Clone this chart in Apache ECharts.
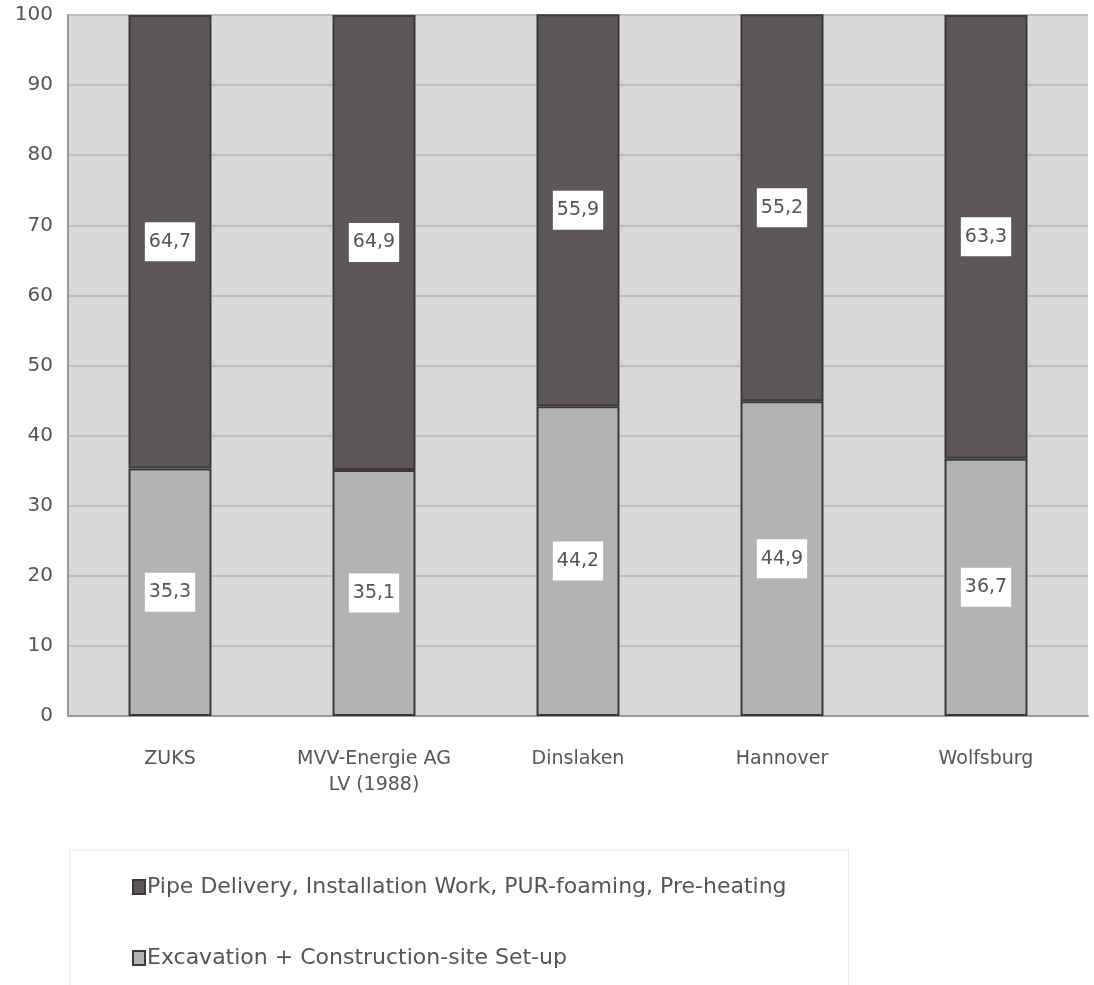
<html lang="en">
<head>
    <meta http-equiv="Content-Type" content="text/html; charset=UTF-8">
    <script type="text/javascript" src="https://cdn.jsdelivr.net/npm/echarts@6/dist/echarts.min.js"></script>
    <style>body{margin:0;background:#fff;}</style>
</head>
<body>
<div id="main" style="height:985px;width:1094px;"></div>
<script type="text/javascript">
    // categories and shares (%)
    var sites = ['ZUKS', 'MVV-Energie AG\nLV (1988)', 'Dinslaken', 'Hannover', 'Wolfsburg'];
    var excavation = [35.3, 35.1, 44.2, 44.9, 36.7];
    var pipeWork = [64.7, 64.9, 55.9, 55.2, 63.3];
    var seriesNames = ['Pipe Delivery, Installation Work, PUR-foaming, Pre-heating',
                       'Excavation + Construction-site Set-up'];

    var myChart = echarts.init(document.getElementById('main'));
    var font = 'DejaVu Sans';

    var labelStyle = {
        show: true,
        position: 'inside',
        formatter: function (p) { return String(p.value).replace('.', ','); },
        backgroundColor: '#ffffff',
        color: '#555',
        fontFamily: font,
        fontSize: 19,
        padding: [11, 4, 9, 4]
    };

    var option = {
        animation: false,
        grid: { left: 68, right: 6, top: 15, bottom: 269, backgroundColor: '#d8d8d8', show: true, borderWidth: 0 },
        legend: {
            orient: 'vertical',
            left: 70, top: 850,
            height: 160,
            data: seriesNames,
            itemWidth: 12, itemHeight: 14,
            itemGap: 49,
            icon: 'rect',
            backgroundColor: '#fff',
            borderColor: '#e6e6e6',
            borderWidth: 1,
            padding: [26, 62, 20, 62],
            textStyle: { color: '#555', fontSize: 22, fontFamily: font, padding: [0, 0, 0, -3] }
        },
        xAxis: {
            type: 'category',
            data: sites,
            axisTick: { show: false },
            axisLine: { lineStyle: { color: '#999', width: 2 } },
            axisLabel: { color: '#555', fontSize: 19, fontFamily: font, margin: 30, lineHeight: 26 }
        },
        yAxis: {
            type: 'value',
            min: 0, max: 100, interval: 10,
            axisLine: { show: true, lineStyle: { color: '#999', width: 2 } },
            axisTick: { show: false },
            splitLine: { lineStyle: { color: '#bdbdbd', width: 2 } },
            axisLabel: { color: '#555', fontSize: 20, fontFamily: font, margin: 15 }
        },
        series: [{
            name: seriesNames[1],
            type: 'bar',
            stack: 'total',
            barWidth: 83,
            data: excavation,
            itemStyle: { color: '#b3b3b3', borderColor: '#3a3a3a', borderWidth: 2 },
            label: labelStyle
        }, {
            name: seriesNames[0],
            type: 'bar',
            stack: 'total',
            data: pipeWork,
            itemStyle: { color: '#5d5758', borderColor: '#3a3a3a', borderWidth: 2 },
            label: labelStyle
        }]
    };

    myChart.setOption(option);
</script>
</body>
</html>
